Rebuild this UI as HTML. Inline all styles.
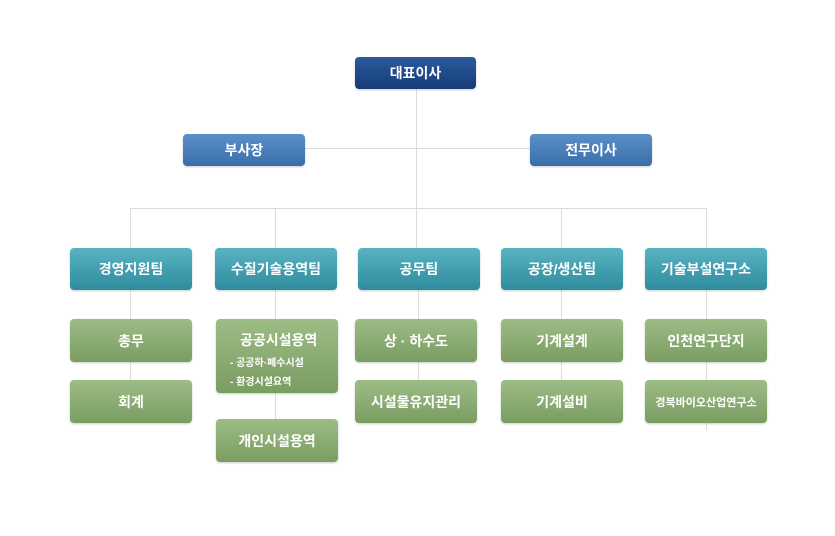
<!DOCTYPE html>
<html><head><meta charset="utf-8"><style>
body{margin:0;width:835px;height:536px;background:#fff;position:relative;overflow:hidden;font-family:"Liberation Sans","Noto Sans CJK KR","NanumGothic",sans-serif;}
.l{position:absolute;background:#dcdcdc;}
.b{position:absolute;border-radius:4px;color:#fff;font-weight:bold;font-size:14px;display:flex;align-items:center;justify-content:center;text-align:center;box-shadow:0 1px 2px rgba(0,0,0,.2);}
.n{background:linear-gradient(#2a5a9c,#173c78);}
.m{background:linear-gradient(#5b8fca,#3b6ea9);}
.t{background:linear-gradient(#58b3c2,#2f8c9e);}
.g{background:linear-gradient(#9dbc86,#7a9d62);}
</style></head><body>
<div class="l" style="left:416px;top:89px;width:1px;height:159px"></div>
<div class="l" style="left:305px;top:148px;width:225px;height:1px"></div>
<div class="l" style="left:130px;top:208px;width:577px;height:1px"></div>
<div class="l" style="left:130px;top:208px;width:1px;height:215px"></div>
<div class="l" style="left:275px;top:208px;width:1px;height:254px"></div>
<div class="l" style="left:561px;top:208px;width:1px;height:215px"></div>
<div class="l" style="left:706px;top:208px;width:1px;height:222px"></div>
<div class="l" style="left:418px;top:290px;width:1px;height:133px"></div>

<div class="b n" style="left:355px;top:57px;width:121px;height:32px">대표이사</div>
<div class="b m" style="left:183px;top:134px;width:122px;height:32px">부사장</div>
<div class="b m" style="left:530px;top:134px;width:122px;height:32px">전무이사</div>

<div class="b t" style="left:70px;top:248px;width:122px;height:42px">경영지원팀</div>
<div class="b t" style="left:215px;top:248px;width:122px;height:42px">수질기술용역팀</div>
<div class="b t" style="left:358px;top:248px;width:122px;height:42px">공무팀</div>
<div class="b t" style="left:501px;top:248px;width:122px;height:42px">공장/생산팀</div>
<div class="b t" style="left:645px;top:248px;width:122px;height:42px">기술부설연구소</div>

<div class="b g" style="left:70px;top:319px;width:122px;height:43px">총무</div>
<div class="b g" style="left:70px;top:380px;width:122px;height:43px">회계</div>
<div class="b g" style="left:216px;top:319px;width:122px;height:74px;display:block;text-align:left">
<div style="font-size:14px;margin:11px 0 0 24px">공공시설용역</div>
<div style="font-size:10px;margin:4px 0 0 14px">- 공공하·폐수시설</div>
<div style="font-size:10px;margin:4px 0 0 14px">- 환경시설요역</div></div>
<div class="b g" style="left:216px;top:419px;width:122px;height:43px">개인시설용역</div>
<div class="b g" style="left:355px;top:319px;width:122px;height:43px">상 · 하수도</div>
<div class="b g" style="left:355px;top:380px;width:122px;height:43px">시설물유지관리</div>
<div class="b g" style="left:501px;top:319px;width:122px;height:43px">기계설계</div>
<div class="b g" style="left:501px;top:380px;width:122px;height:43px">기계설비</div>
<div class="b g" style="left:645px;top:319px;width:122px;height:43px">인천연구단지</div>
<div class="b g" style="left:645px;top:380px;width:122px;height:43px;font-size:11px">경북바이오산업연구소</div>
</body></html>
